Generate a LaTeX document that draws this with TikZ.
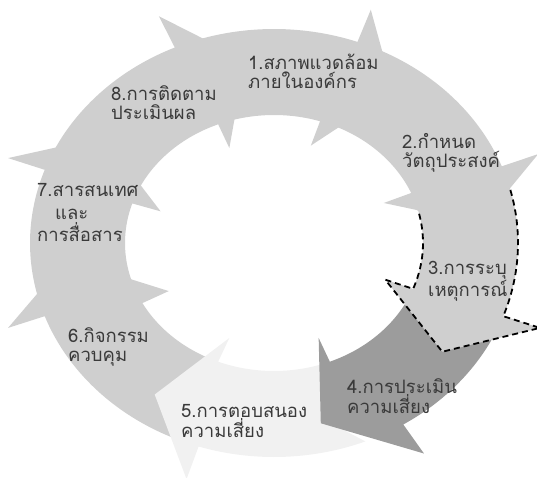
\documentclass[tikz,border=0pt]{standalone}
\usepackage{fontspec}
\newfontfamily\thaifont[Script=Thai]{Loma}
\definecolor{ringc}{HTML}{CFCFCF}
\definecolor{darkc}{HTML}{9C9C9C}
\definecolor{fadec}{HTML}{F1F1F1}
\definecolor{txtc}{HTML}{3A3A3A}
\def\ORx{244}\def\ORy{214}\def\IRx{149}\def\IRy{128}\def\TRx{208}\def\TRy{185}
\newcommand{\segpath}[4]{%
 plot[domain=#1:#2,samples=30] (\x:\ORx\space and \ORy) -- ({#2}:{\ORx*1.16} and {\ORy*1.16}) -- ({#4}:\TRx\space and \TRy) -- ({#3}:{\IRx*0.8} and {\IRy*0.8}) -- plot[domain=#3:#1,samples=30] (\x:\IRx\space and \IRy) -- ({#1-8}:{\TRx-2} and {\TRy-3}) -- cycle}
\tikzset{
  seglight/.style={fill=ringc},
  segdark/.style={fill=darkc},
  segfade/.style={fill=fadec},
  lbl/.style={font=\thaifont\fontsize{18.5}{19}\selectfont, text=txtc, inner sep=0pt, align=left, anchor=west},
  dashedge/.style={draw=black, line width=1.8pt, dash pattern=on 6pt off 4pt}
}
\begin{document}
\begin{tikzpicture}[x=1pt,y=1pt]
\useasboundingbox (0,0) rectangle (537,477);
\begin{scope}[shift={(274,234)}]
  % drawing order: 1,8,7,6,5,4,3,2
  \fill[seglight] \segpath{108}{70}{72}{55};
  \fill[seglight] \segpath{156}{114}{112}{98};
  \fill[seglight] \segpath{199}{160}{162}{145};
  \fill[seglight] \segpath{245}{200}{208}{185};
  \fill[segfade]  \segpath{-68}{-108}{-112}{-125};
  \fill[segdark]  \segpath{-25}{-58}{-68}{-77};
  \fill[seglight] \segpath{17}{-20}{-21}{-36};
  \draw[dashedge] plot[domain=17:-20,samples=30] (\x:\ORx\space and \ORy) -- ({-20}:{\ORx*1.16} and {\ORy*1.16}) -- ({-36}:\TRx\space and \TRy) -- ({-21}:{\IRx*0.8} and {\IRy*0.8}) -- plot[domain=-21:17,samples=30] (\x:\IRx\space and \IRy);
  \fill[seglight] \segpath{66}{21}{23}{6};
\end{scope}
\node[lbl] (t1) at (248,406) {1.สภาพแวดล้อม\\ภายในองค์กร};
\node[lbl] (t8) at (111,374) {8.การติดตาม\\ประเมินผล};
\node[lbl] (t2) at (402,324) {2.กำหนด\\วัตถุประสงค์};
\node[lbl, font=\thaifont\fontsize{18.5}{22.5}\selectfont] (t7) at (37,264) {7.สารสนเทศ\\\hspace*{18pt}และ\\การสื่อสาร};
\node[lbl] (t3) at (428,196) {3.การระบุ\\เหตุการณ์};
\node[lbl] (t6) at (68,130) {6.กิจกรรม\\ควบคุม};
\node[lbl] (t4) at (347,81) {4.การประเมิน\\ความเสี่ยง};
\node[lbl] (t5) at (181,56) {5.การตอบสนอง\\ความเสี่ยง};
\end{tikzpicture}
\end{document}
